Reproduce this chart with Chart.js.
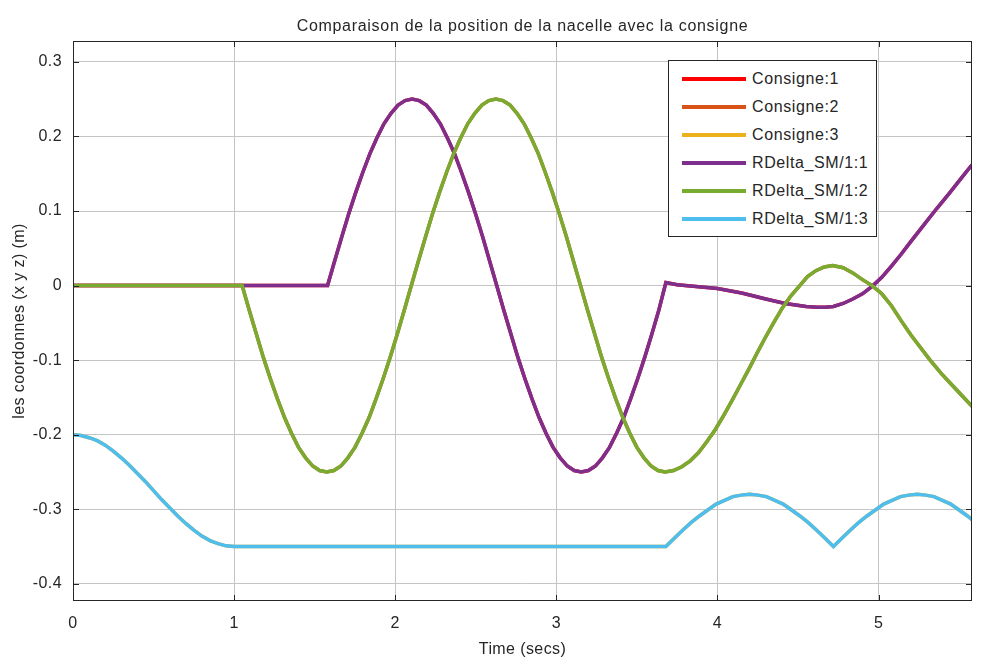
<!DOCTYPE html>
<html>
<head>
<meta charset="utf-8">
<script src="https://cdn.jsdelivr.net/npm/chart.js@4.4.1/dist/chart.umd.min.js"></script>
<style>
  html, body { margin: 0; padding: 0; background: #fff; }
  #wrap { position: relative; width: 992px; height: 663px; }
  #legend {
    position: absolute; left: 668px; top: 60px; width: 207px; height: 175px;
    border: 1px solid #262626; background: #fff;
    font: 16px "Liberation Sans", Arial, sans-serif; color: #262626; letter-spacing: 0.6px;
  }
  .row { position: absolute; left: 0; height: 20px; width: 100%; }
  .row .sw { position: absolute; left: 13px; top: 8px; width: 64px; height: 4px; }
  .row .lb { position: absolute; left: 83px; top: 0; line-height: 20px; white-space: nowrap; }
</style>
</head>
<body>
<div id="wrap">
  <canvas id="positionChart" width="992" height="663"></canvas>
  <div id="legend"></div>
</div>
<script>
const chartTitle = 'Comparaison de la position de la nacelle avec la consigne';
const seriesNames = ['Consigne:1', 'Consigne:2', 'Consigne:3', 'RDelta_SM/1:1', 'RDelta_SM/1:2', 'RDelta_SM/1:3'];
const seriesColors = ['#FF0000', '#D95319', '#EDB120', '#7E2F8E', '#77AC30', '#4DBEEE'];

// x position (purple / consigne 1)
const timeX = [0, 1.58, 1.624, 1.668, 1.711, 1.755, 1.799, 1.843, 1.886, 1.93, 1.974, 2.018, 2.061, 2.105, 2.149, 2.193, 2.236, 2.28, 2.324, 2.368, 2.411, 2.455, 2.499, 2.543, 2.586, 2.63, 2.674, 2.718, 2.761, 2.805, 2.849, 2.893, 2.936, 2.98, 3.024, 3.068, 3.111, 3.155, 3.199, 3.243, 3.286, 3.33, 3.374, 3.418, 3.461, 3.505, 3.549, 3.593, 3.636, 3.68,
  3.75, 3.85, 4.0, 4.15, 4.3, 4.42, 4.55, 4.62, 4.67, 4.72, 4.78, 4.84, 4.9, 4.96, 5.02, 5.08, 5.14, 5.2, 5.28, 5.36, 5.44, 5.51, 5.58];
const posX = [0, 0, 0.033, 0.065, 0.096, 0.125, 0.152, 0.177, 0.198, 0.217, 0.231, 0.242, 0.248, 0.25, 0.248, 0.242, 0.231, 0.217, 0.198, 0.177, 0.152, 0.125, 0.096, 0.065, 0.033, 0, -0.033, -0.065, -0.096, -0.125, -0.152, -0.177, -0.198, -0.217, -0.231, -0.242, -0.248, -0.25, -0.248, -0.242, -0.231, -0.217, -0.198, -0.177, -0.152, -0.125, -0.096, -0.065, -0.033, 0.004,
  0.001, -0.001, -0.004, -0.01, -0.018, -0.024, -0.028, -0.029, -0.029, -0.028, -0.024, -0.018, -0.011, -0.001, 0.011, 0.026, 0.042, 0.059, 0.081, 0.103, 0.124, 0.143, 0.162];

// y position (green / consigne 2)
const timeY = [0, 1.05, 1.094, 1.138, 1.181, 1.225, 1.269, 1.313, 1.356, 1.4, 1.444, 1.488, 1.531, 1.575, 1.619, 1.663, 1.706, 1.75, 1.794, 1.838, 1.881, 1.925, 1.969, 2.013, 2.056, 2.1, 2.144, 2.188, 2.231, 2.275, 2.319, 2.363, 2.406, 2.45, 2.494, 2.538, 2.581, 2.625, 2.669, 2.713, 2.756, 2.8, 2.844, 2.888, 2.931, 2.975, 3.019, 3.063, 3.106, 3.15, 3.194, 3.238, 3.281, 3.325, 3.369, 3.413, 3.456, 3.5, 3.544, 3.588, 3.631, 3.675,
  3.727, 3.779, 3.831, 3.883, 3.935, 3.987, 4.039, 4.091, 4.143, 4.195, 4.247, 4.299, 4.351, 4.403, 4.455, 4.507, 4.559, 4.611, 4.663, 4.715,
  4.78, 4.84, 4.9, 4.96, 5.02, 5.08, 5.14, 5.2, 5.26, 5.32, 5.39, 5.45, 5.52, 5.58];
const posY = [0, 0, -0.033, -0.065, -0.096, -0.125, -0.152, -0.177, -0.198, -0.217, -0.231, -0.242, -0.248, -0.25, -0.248, -0.242, -0.231, -0.217, -0.198, -0.177, -0.152, -0.125, -0.096, -0.065, -0.033, 0, 0.033, 0.065, 0.096, 0.125, 0.152, 0.177, 0.198, 0.217, 0.231, 0.242, 0.248, 0.25, 0.248, 0.242, 0.231, 0.217, 0.198, 0.177, 0.152, 0.125, 0.096, 0.065, 0.033, 0, -0.033, -0.065, -0.096, -0.125, -0.152, -0.177, -0.198, -0.217, -0.231, -0.242, -0.248, -0.25,
  -0.248, -0.243, -0.235, -0.224, -0.209, -0.193, -0.174, -0.154, -0.133, -0.112, -0.09, -0.069, -0.049, -0.03, -0.014, -0.001, 0.012, 0.02, 0.025, 0.027,
  0.024, 0.017, 0.008, 0, -0.011, -0.027, -0.047, -0.066, -0.083, -0.1, -0.118, -0.132, -0.148, -0.162];

// z position (blue / consigne 3)
const timeZ = [0, 0.05, 0.1, 0.15, 0.2, 0.25, 0.3, 0.35, 0.4, 0.45, 0.5, 0.55, 0.6, 0.65, 0.7, 0.75, 0.8, 0.85, 0.9, 0.95, 1.0,
  3.68, 3.732, 3.784, 3.836, 3.888, 3.94, 3.992, 4.044, 4.096, 4.148, 4.2, 4.252, 4.304, 4.356, 4.408, 4.46, 4.512, 4.564, 4.616, 4.668, 4.72,
  4.772, 4.824, 4.876, 4.928, 4.98, 5.032, 5.084, 5.136, 5.188, 5.24, 5.292, 5.344, 5.396, 5.448, 5.5, 5.552, 5.58];
const posZ = [-0.2, -0.201, -0.204, -0.208, -0.214, -0.222, -0.231, -0.241, -0.252, -0.263, -0.275, -0.287, -0.298, -0.309, -0.319, -0.328, -0.336, -0.342, -0.346, -0.349, -0.35,
  -0.35, -0.339, -0.328, -0.318, -0.309, -0.301, -0.293, -0.288, -0.283, -0.281, -0.28, -0.281, -0.283, -0.288, -0.293, -0.301, -0.309, -0.318, -0.328, -0.339, -0.35,
  -0.339, -0.328, -0.318, -0.309, -0.301, -0.293, -0.288, -0.283, -0.281, -0.28, -0.281, -0.283, -0.288, -0.293, -0.301, -0.309, -0.314];

const xTickValues = [0, 1, 2, 3, 4, 5];
const yTickValues = [-0.4, -0.3, -0.2, -0.1, 0, 0.1, 0.2, 0.3];

const toPoints = (t, v) => t.map((tt, i) => ({ x: tt, y: v[i] }));
const seriesData = [
  toPoints(timeX, posX), toPoints(timeY, posY), toPoints(timeZ, posZ),
  toPoints(timeX, posX), toPoints(timeY, posY), toPoints(timeZ, posZ)
];

const FONT = '"Liberation Sans", Arial, sans-serif';
const TEXT = '#262626';

// box round the axes, inner ticks, and title centred over the plot
const axesFrame = {
  id: 'axesFrame',
  beforeDraw(chart) {
    chart.ctx.letterSpacing = '0.4px';
  },
  afterDraw(chart) {
    const { ctx, chartArea: a, scales: { x, y } } = chart;
    ctx.save();
    ctx.strokeStyle = TEXT;
    ctx.lineWidth = 1;
    ctx.strokeRect(a.left + 0.5, a.top + 0.5, a.width - 1, a.height - 1);
    ctx.beginPath();
    x.ticks.forEach(t => {
      const px = Math.round(x.getPixelForValue(t.value)) + 0.5;
      ctx.moveTo(px, a.bottom); ctx.lineTo(px, a.bottom - 6);
      ctx.moveTo(px, a.top); ctx.lineTo(px, a.top + 6);
    });
    y.ticks.forEach(t => {
      const py = Math.round(y.getPixelForValue(t.value)) + 0.5;
      ctx.moveTo(a.left, py); ctx.lineTo(a.left + 6, py);
      ctx.moveTo(a.right, py); ctx.lineTo(a.right - 6, py);
    });
    ctx.stroke();
    ctx.fillStyle = TEXT;
    ctx.font = '16px ' + FONT;
    ctx.letterSpacing = '0.7px';
    ctx.textAlign = 'center';
    ctx.textBaseline = 'middle';
    ctx.fillText(chartTitle, (a.left + a.right) / 2, 27);
    ctx.restore();
  }
};

const ctx = document.getElementById('positionChart');

new Chart(ctx, {
  type: 'line',
  data: {
    datasets: seriesNames.map((name, i) => ({
      label: name,
      data: seriesData[i],
      borderColor: seriesColors[i],
      backgroundColor: seriesColors[i],
      borderWidth: 3.5,
      pointRadius: 0,
      tension: 0,
      fill: false,
      order: 6 - i
    }))
  },
  options: {
    responsive: false,
    animation: false,
    parsing: false,
    layout: { padding: { top: 41, right: 20, bottom: 0, left: 0 } },
    plugins: {
      legend: { display: false },
      title: { display: false },
      tooltip: { enabled: false }
    },
    scales: {
      x: {
        type: 'linear',
        min: 0,
        max: 5.58,
        afterFit: s => { s.height = 62; },
        afterBuildTicks: s => { s.ticks = xTickValues.map(v => ({ value: v })); },
        grid: { color: '#c4c4c4', drawTicks: false },
        border: { display: false },
        ticks: { color: TEXT, font: { family: FONT, size: 16 }, padding: 13, maxRotation: 0,
                 callback: v => String(v) },
        title: { display: true, text: 'Time (secs)', color: TEXT, font: { family: FONT, size: 16 },
                 padding: { top: 0, bottom: 4 } }
      },
      y: {
        type: 'linear',
        min: -0.423,
        max: 0.328,
        afterFit: s => { s.width = 73; },
        afterBuildTicks: s => { s.ticks = yTickValues.map(v => ({ value: v })); },
        grid: { color: '#c4c4c4', drawTicks: false },
        border: { display: false },
        ticks: { color: TEXT, font: { family: FONT, size: 16 }, padding: 11,
                 callback: v => String(Number(v.toFixed(1))) },
        title: { display: true, text: 'les coordonnes (x y z) (m)', color: TEXT,
                 font: { family: FONT, size: 16 }, padding: { top: 10, bottom: 0 } }
      }
    }
  },
  plugins: [axesFrame]
});

// legend drawn inside the axes, top right
const legend = document.getElementById('legend');
seriesNames.forEach((name, i) => {
  const row = document.createElement('div');
  row.className = 'row';
  row.style.top = (8 + i * 28) + 'px';
  row.innerHTML = '<span class="sw" style="background:' + seriesColors[i] + '"></span><span class="lb">' + name + '</span>';
  legend.appendChild(row);
});
</script>
</body>
</html>
